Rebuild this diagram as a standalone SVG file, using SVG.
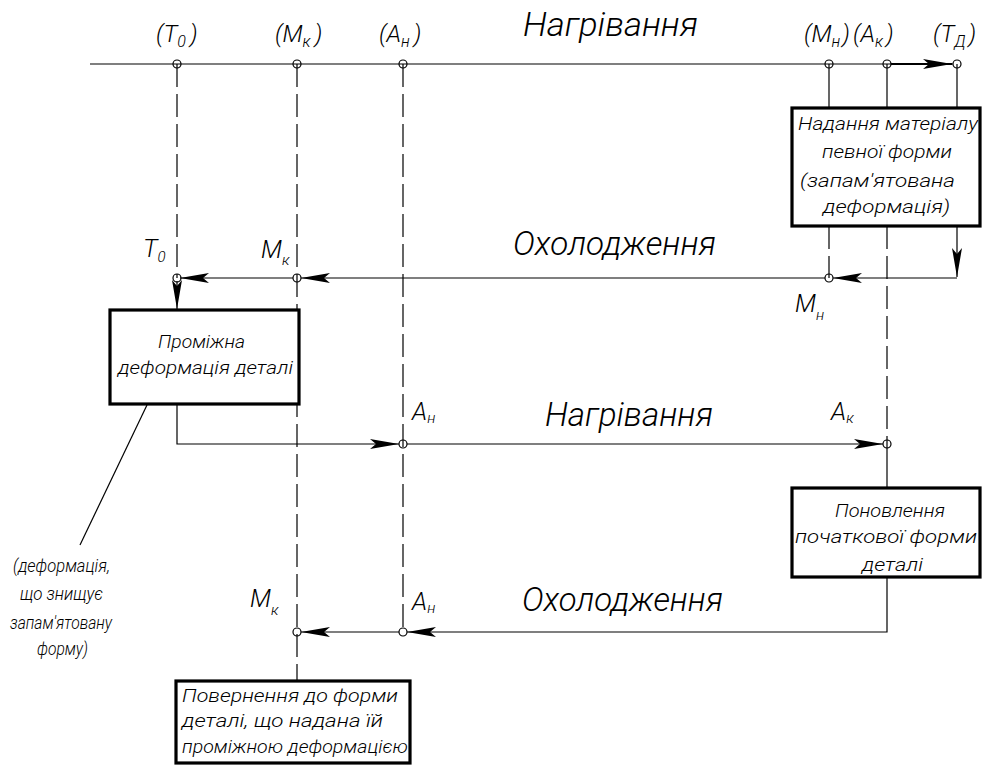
<svg xmlns="http://www.w3.org/2000/svg" width="982" height="774" viewBox="0 0 982 774">
<style>
.ln{stroke:#000;stroke-width:1.2;fill:none}
.dash{stroke-dasharray:23 7}
.thick{stroke-width:2.2}
.box{fill:#fff;stroke:#000;stroke-width:3.2}
.pt{fill:none;stroke:#000;stroke-width:1.2}
text{font-family:Roboto,"Liberation Sans",sans-serif;font-weight:300;font-style:italic;fill:#000}
.big{font-size:33px}
.bx{font-size:19px}
.lab{font-size:24px}
.sub{font-size:16px}
.rl{font-size:25px}
.rs{font-size:15px}
</style>
<defs>
<marker id="arr" markerUnits="userSpaceOnUse" markerWidth="34" markerHeight="14" viewBox="-32 -7 34 14" refX="0" refY="0" orient="auto">
<path d="M0,0 L-29,-5 L-23,0 L-29,5 Z" fill="#000"/>
</marker>
</defs>
<rect width="982" height="774" fill="#fff"/>

<g id="connectors">
<path class="ln" d="M90,64 H953"/>
<path class="ln thick" d="M891,64 H952" marker-end="url(#arr)"/>
<path class="ln dash" d="M177,64 V278"/>
<path class="ln dash" d="M297,64 V681"/>
<path class="ln dash" d="M403,64 V632"/>
<path class="ln" d="M829,64 V108"/>
<path class="ln dash" d="M829,226 V278"/>
<path class="ln" d="M887,64 V108"/>
<path class="ln dash" d="M887,226 V444"/>
<path class="ln" d="M887,444 V488"/>
<path class="ln" d="M957,64 V108"/>
<path class="ln" d="M957,226 V277" marker-end="url(#arr)"/>
<path class="ln" d="M957,278 H833" marker-end="url(#arr)"/>
<path class="ln" d="M825,278 H301" marker-end="url(#arr)"/>
<path class="ln" d="M293,278 H180" marker-end="url(#arr)"/>
<path class="ln" d="M177,281 V309" marker-end="url(#arr)"/>
<path class="ln" d="M177,404 V444 H399" marker-end="url(#arr)"/>
<path class="ln" d="M407,444 H883" marker-end="url(#arr)"/>
<path class="ln" d="M887,577 V632 H407" marker-end="url(#arr)"/>
<path class="ln" d="M399,632 H301" marker-end="url(#arr)"/>
<path class="ln" d="M147,405 L80,545"/>
<text class="big" x="523" y="36" textLength="175" lengthAdjust="spacingAndGlyphs">Нагрівання</text>
<text class="big" x="513" y="255" textLength="203" lengthAdjust="spacingAndGlyphs">Охолодження</text>
<text class="big" x="545" y="426" textLength="168" lengthAdjust="spacingAndGlyphs">Нагрівання</text>
<text class="big" x="522" y="611" textLength="201" lengthAdjust="spacingAndGlyphs">Охолодження</text>
</g>

<g id="top-T0"><circle class="pt" cx="177" cy="64" r="4"/><text class="lab" x="156" y="42">(Т<tspan class="sub" dy="5">0</tspan><tspan dx="4" dy="-5">)</tspan></text></g>
<g id="top-Mk"><circle class="pt" cx="297" cy="64" r="4"/><text class="lab" x="275" y="42">(М<tspan class="sub" dy="5">к</tspan><tspan dx="4" dy="-5">)</tspan></text></g>
<g id="top-Ah"><circle class="pt" cx="403" cy="64" r="4"/><text class="lab" x="379" y="42">(А<tspan class="sub" dy="5">н</tspan><tspan dx="4" dy="-5">)</tspan></text></g>
<g id="top-Mh"><circle class="pt" cx="829" cy="64" r="4"/><text class="lab" x="804" y="42">(М<tspan class="sub" dy="5">н</tspan><tspan dx="2" dy="-5">)</tspan></text></g>
<g id="top-Ak"><circle class="pt" cx="887" cy="64" r="4"/><text class="lab" x="853" y="42">(А<tspan class="sub" dy="5">к</tspan><tspan dx="3" dy="-5">)</tspan></text></g>
<g id="top-TD"><circle class="pt" cx="957" cy="64" r="4"/><text class="lab" x="933" y="42">(Т<tspan class="sub" dy="5">Д</tspan><tspan dx="3" dy="-5">)</tspan></text></g>

<g id="r2-T0"><circle class="pt" cx="177" cy="278" r="4"/><text class="rl" x="143" y="257">Т<tspan class="rs" dy="5">0</tspan></text></g>
<g id="r2-Mk"><circle class="pt" cx="297" cy="278" r="4"/><text class="rl" x="261" y="258">М<tspan class="rs" dy="7">к</tspan></text></g>
<g id="r2-Mh"><circle class="pt" cx="829" cy="278" r="4"/><text class="rl" x="795" y="312">М<tspan class="rs" dy="8">н</tspan></text></g>

<g id="r3-Ah"><circle class="pt" cx="403" cy="444" r="4"/><text class="rl" x="412" y="420">А<tspan class="rs" dy="3">н</tspan></text></g>
<g id="r3-Ak"><circle class="pt" cx="887" cy="444" r="4"/><text class="rl" x="831" y="420">А<tspan class="rs" dy="3">к</tspan></text></g>

<g id="r4-Ah"><circle class="pt" cx="403" cy="632" r="4"/><text class="rl" x="412" y="610">А<tspan class="rs" dy="3">н</tspan></text></g>
<g id="r4-Mk"><circle class="pt" cx="297" cy="632" r="4"/><text class="rl" x="250" y="607">М<tspan class="rs" dy="8">к</tspan></text></g>

<g id="box-shape">
<rect class="box" x="792" y="108" width="188" height="118"/>
<text class="bx" x="798" y="130" textLength="180" lengthAdjust="spacingAndGlyphs">Надання матеріалу</text>
<text class="bx" x="822" y="158" textLength="130" lengthAdjust="spacingAndGlyphs">певної форми</text>
<text class="bx" x="800" y="187" textLength="155" lengthAdjust="spacingAndGlyphs">(запам'ятована</text>
<text class="bx" x="823" y="213" textLength="127" lengthAdjust="spacingAndGlyphs">деформація)</text>
</g>

<g id="box-intermediate">
<rect class="box" x="110" y="310" width="189" height="94"/>
<text class="bx" x="158" y="348" textLength="87" lengthAdjust="spacingAndGlyphs">Проміжна</text>
<text class="bx" x="118" y="374" textLength="175" lengthAdjust="spacingAndGlyphs">деформація деталі</text>
</g>

<g id="box-restore">
<rect class="box" x="792" y="488" width="188" height="89"/>
<text class="bx" x="835" y="517" textLength="110" lengthAdjust="spacingAndGlyphs">Поновлення</text>
<text class="bx" x="795" y="543" textLength="182" lengthAdjust="spacingAndGlyphs">початкової форми</text>
<text class="bx" x="862" y="571" textLength="61" lengthAdjust="spacingAndGlyphs">деталі</text>
</g>

<g id="box-return">
<rect class="box" x="176" y="681" width="234" height="82"/>
<text class="bx" x="182" y="702" textLength="216" lengthAdjust="spacingAndGlyphs">Повернення до форми</text>
<text class="bx" x="182" y="727" textLength="201" lengthAdjust="spacingAndGlyphs">деталі, що надана їй</text>
<text class="bx" x="182" y="753" textLength="226" lengthAdjust="spacingAndGlyphs">проміжною деформацією</text>
</g>

<g id="note">
<text class="bx" x="13" y="572" textLength="97" lengthAdjust="spacingAndGlyphs">(деформація,</text>
<text class="bx" x="20" y="600" textLength="83" lengthAdjust="spacingAndGlyphs">що знищує</text>
<text class="bx" x="10" y="629" textLength="102" lengthAdjust="spacingAndGlyphs">запам'ятовану</text>
<text class="bx" x="37" y="655" textLength="51" lengthAdjust="spacingAndGlyphs">форму)</text>
</g>
</svg>
